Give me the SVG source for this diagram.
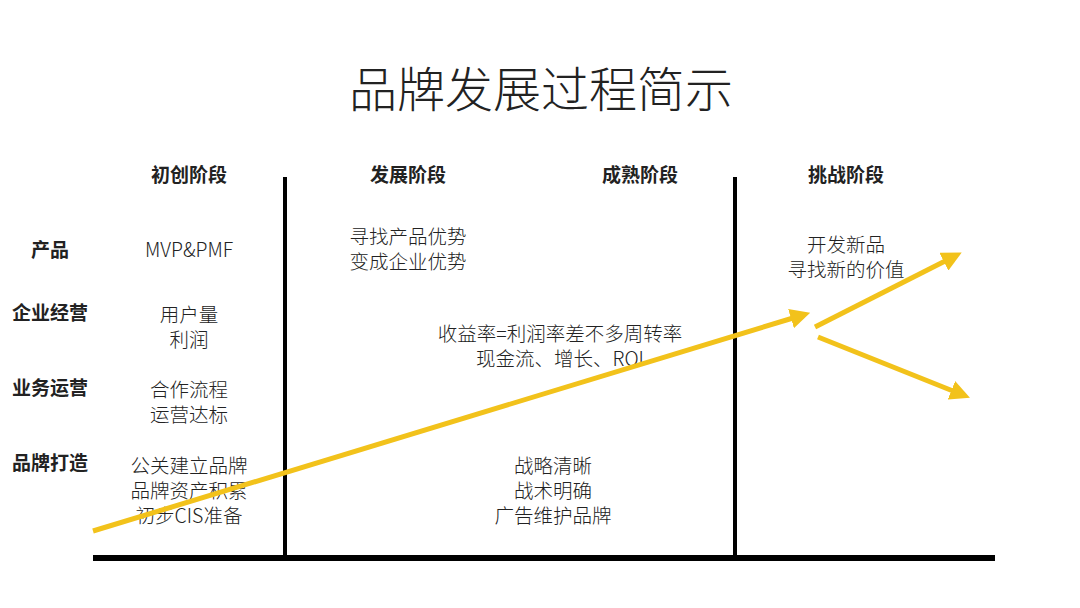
<svg xmlns="http://www.w3.org/2000/svg" width="1080" height="608" viewBox="0 0 1080 608">
<style>
text{font-family:"Noto Sans CJK SC","Noto Sans",sans-serif;text-anchor:middle;fill:#222}
.t{font-size:48px;font-weight:300}
.h{font-size:19px;font-weight:bold}
.r{font-size:19px;font-weight:bold}
.b{font-size:19.5px;font-weight:300}
.ax{stroke:#000;fill:none}
.ar{stroke:#F2C21B;stroke-width:5;fill:none;marker-end:url(#m)}
</style>
<defs><marker id="m" markerWidth="4" markerHeight="4" refX="2.5" refY="2" orient="auto" markerUnits="strokeWidth"><path d="M0,0 L4,2 L0,4 Z" fill="#F2C21B"/></marker></defs>
<rect width="1080" height="608" fill="#fff"/>
<text class="t" x="541" y="107">品牌发展过程简示</text>
<g id="headers">
<text class="h" x="189" y="182">初创阶段</text>
<text class="h" x="408" y="182">发展阶段</text>
<text class="h" x="640" y="182">成熟阶段</text>
<text class="h" x="846" y="182">挑战阶段</text>
</g>
<g id="rows">
<text class="r" x="50" y="257">产品</text>
<text class="r" x="50" y="320">企业经营</text>
<text class="r" x="50" y="395">业务运营</text>
<text class="r" x="50" y="470">品牌打造</text>
</g>
<g id="cells">
<text class="b" x="189" y="257">MVP&amp;PMF</text>
<text class="b" x="189" y="322">用户量</text><text class="b" x="189" y="347">利润</text>
<text class="b" x="189" y="397">合作流程</text><text class="b" x="189" y="422">运营达标</text>
<text class="b" x="189" y="473">公关建立品牌</text><text class="b" x="189" y="498">品牌资产积累</text><text class="b" x="189" y="523">初步CIS准备</text>
<text class="b" x="408" y="244">寻找产品优势</text><text class="b" x="408" y="269">变成企业优势</text>
<text class="b" x="560" y="341">收益率=利润率差不多周转率</text><text class="b" x="560" y="366">现金流、增长、ROI</text>
<text class="b" x="553" y="473">战略清晰</text><text class="b" x="553" y="498">战术明确</text><text class="b" x="553" y="523">广告维护品牌</text>
<text class="b" x="846" y="252">开发新品</text><text class="b" x="846" y="277">寻找新的价值</text>
</g>
<g id="connectors">
<line class="ax" x1="285" y1="177" x2="285" y2="557" stroke-width="4"/>
<line class="ax" x1="735" y1="177" x2="735" y2="557" stroke-width="4"/>
<line class="ax" x1="93" y1="558" x2="995" y2="558" stroke-width="6"/>
<line class="ar" x1="93" y1="531" x2="803" y2="315"/>
<line class="ar" x1="815" y1="327" x2="955" y2="256"/>
<line class="ar" x1="818" y1="337" x2="963" y2="395"/>
</g>
</svg>
